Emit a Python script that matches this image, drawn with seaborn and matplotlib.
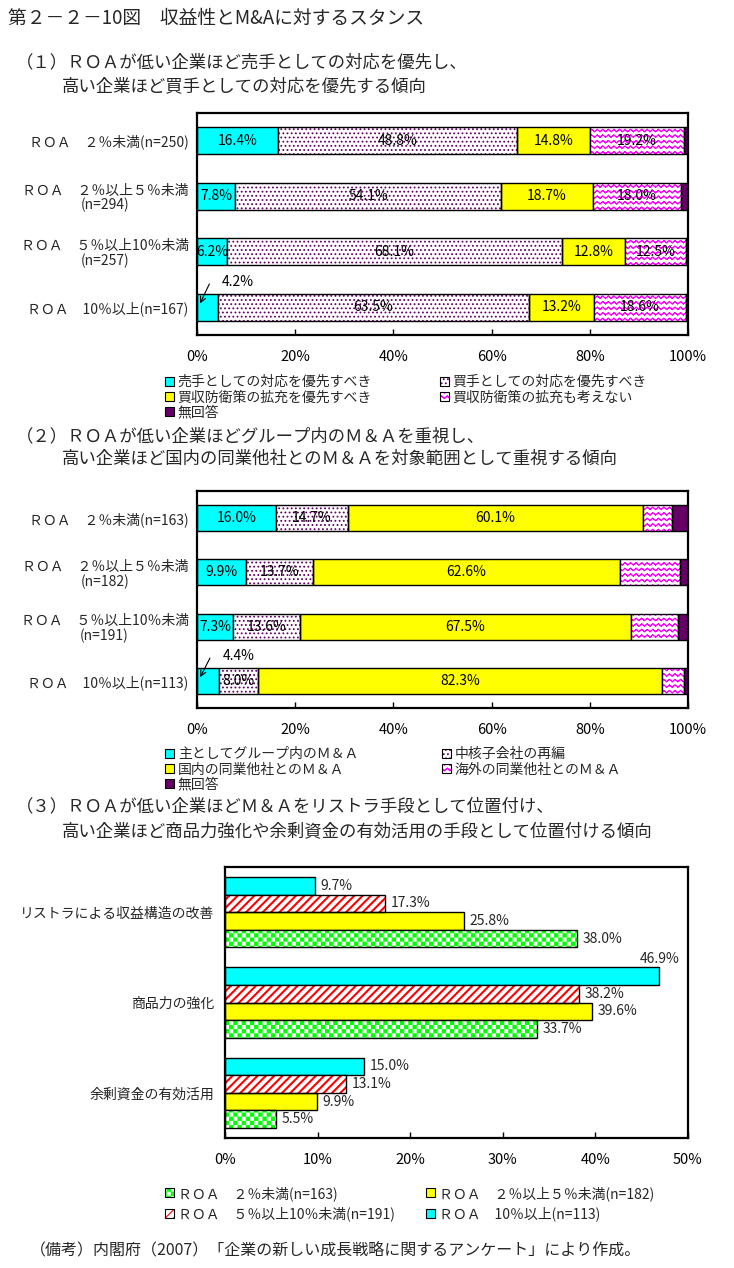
import warnings
warnings.filterwarnings('ignore')
import numpy as np
import pandas as pd
import matplotlib
matplotlib.use('Agg')
import matplotlib.pyplot as plt
import matplotlib.hatch as mhatch
from matplotlib.path import Path
from matplotlib.patches import Rectangle, Patch
from matplotlib.legend_handler import HandlerTuple
import seaborn as sns

# ---------------- data ----------------
title = '第２－２－10図　収益性とM&Aに対するスタンス'
sub1 = ['（１）ＲＯＡが低い企業ほど売手としての対応を優先し、', '高い企業ほど買手としての対応を優先する傾向']
sub2 = ['（２）ＲＯＡが低い企業ほどグループ内のＭ＆Ａを重視し、', '高い企業ほど国内の同業他社とのＭ＆Ａを対象範囲として重視する傾向']
sub3 = ['（３）ＲＯＡが低い企業ほどＭ＆Ａをリストラ手段として位置付け、', '高い企業ほど商品力強化や余剰資金の有効活用の手段として位置付ける傾向']
footnote = '（備考）内閣府（2007）「企業の新しい成長戦略に関するアンケート」により作成。'

p1_cats = ['ＲＯＡ　２％未満(n=250)', 'ＲＯＡ　２％以上５％未満\n(n=294)',
           'ＲＯＡ　５％以上10％未満\n(n=257)', 'ＲＯＡ　10％以上(n=167)']
p1_series = ['売手としての対応を優先すべき', '買手としての対応を優先すべき',
             '買収防衛策の拡充を優先すべき', '買収防衛策の拡充も考えない', '無回答']
p1_sell = [16.4, 7.8, 6.2, 4.2]
p1_buy = [48.8, 54.1, 68.1, 63.5]
p1_defend = [14.8, 18.7, 12.8, 13.2]
p1_nodefend = [19.2, 18.0, 12.5, 18.6]
p1_na = [0.8, 1.4, 0.4, 0.5]

p2_cats = ['ＲＯＡ　２％未満(n=163)', 'ＲＯＡ　２％以上５％未満\n(n=182)',
           'ＲＯＡ　５％以上10％未満\n(n=191)', 'ＲＯＡ　10％以上(n=113)']
p2_series = ['主としてグループ内のＭ＆Ａ', '中核子会社の再編', '国内の同業他社とのＭ＆Ａ',
             '海外の同業他社とのＭ＆Ａ', '無回答']
p2_group = [16.0, 9.9, 7.3, 4.4]
p2_core = [14.7, 13.7, 13.6, 8.0]
p2_domestic = [60.1, 62.6, 67.5, 82.3]
p2_overseas = [6.0, 12.1, 9.5, 4.4]
p2_na = [3.2, 1.7, 2.1, 0.9]

p3_cats = ['リストラによる収益構造の改善', '商品力の強化', '余剰資金の有効活用']
p3_groups = ['ＲＯＡ　10％以上(n=113)', 'ＲＯＡ　５％以上10％未満(n=191)',
             'ＲＯＡ　２％以上５％未満(n=182)', 'ＲＯＡ　２％未満(n=163)']
p3_roa10 = [9.7, 46.9, 15.0]
p3_roa5_10 = [17.3, 38.2, 13.1]
p3_roa2_5 = [25.8, 39.6, 9.9]
p3_roa2 = [38.0, 33.7, 5.5]

pct_ticks_100 = [0, 20, 40, 60, 80, 100]
pct_ticks_50 = [0, 10, 20, 30, 40, 50]

# ---------------- custom hatches ----------------
class WaveHatch(mhatch.HatchPatternBase):
    def __init__(self, hatch, density):
        self.n = hatch.count('~') * density
        self.pts = 2 * self.n + 1 if self.n else 0
        self.m = 2 * self.pts - 1 if self.n else 0
        self.num_vertices = self.n * self.m

    def set_vertices_and_codes(self, vertices, codes):
        n = self.n
        xs = np.linspace(0, 1, self.pts)
        off = np.where(np.arange(self.pts) % 2 == 0, -0.22, 0.22) / n
        k = 0
        for i in range(n):
            ys = (i + 0.5) / n + off
            vertices[k:k + self.m, 0] = np.concatenate([xs, xs[-2::-1]])
            vertices[k:k + self.m, 1] = np.concatenate([ys, ys[-2::-1]])
            codes[k] = Path.MOVETO
            codes[k + 1:k + self.m] = Path.LINETO
            k += self.m


class CheckerHatch(mhatch.HatchPatternBase):
    def __init__(self, hatch, density):
        self.n = hatch.count('#') * density * 2
        self.cells = [(i, j) for i in range(self.n) for j in range(self.n)
                      if (i + j) % 2 == 0] if self.n else []
        self.num_vertices = len(self.cells) * 5

    def set_vertices_and_codes(self, vertices, codes):
        s = 1.0 / self.n
        ins = 0.12 * s
        k = 0
        for i, j in self.cells:
            x0, y0 = i * s + ins, j * s + ins
            x1, y1 = (i + 1) * s - ins, (j + 1) * s - ins
            vertices[k:k + 5] = [(x0, y0), (x1, y0), (x1, y1), (x0, y1), (x0, y0)]
            codes[k:k + 5] = [Path.MOVETO, Path.LINETO, Path.LINETO, Path.LINETO, Path.CLOSEPOLY]
            k += 5


mhatch._hatch_types.append(WaveHatch)
mhatch._hatch_types.append(CheckerHatch)

# ---------------- style ----------------
sns.set_style('white')
plt.rcParams['font.family'] = ['Noto Sans CJK JP', 'DejaVu Sans']
plt.rcParams['hatch.linewidth'] = 0.8

CYAN = '#00FFFF'
YELLOW = '#FFFF00'
PURPLE = '#660066'
DOTC = '#660066'
MAGENTA = '#FF00FF'
RED = '#FF0000'
GREEN = '#00FF00'

W, H = 734, 1268
def fx(px):
    return px / W
def fy(py):
    return 1 - py / H

fig = plt.figure(figsize=(W / 100, H / 100), dpi=100)
fig.patch.set_facecolor('white')

ax1 = fig.add_axes([fx(197), fy(335), (688 - 197) / W, (335 - 113) / H])
ax2 = fig.add_axes([fx(197), fy(708), (688 - 197) / W, (708 - 491) / H])
ax3 = fig.add_axes([fx(225), fy(1138), (688 - 225) / W, (1138 - 867) / H])


def style_patch(ax, p, face, hatch, hcol, hlw=0.8):
    p.set_facecolor(face)
    if hatch is None:
        p.set_edgecolor('black')
        p.set_linewidth(1.0)
    else:
        p.set_hatch(hatch)
        p.set_edgecolor(hcol)
        p.set_linewidth(0)
        if hasattr(p, 'set_hatch_linewidth'):
            p.set_hatch_linewidth(hlw)
        ax.add_patch(Rectangle(p.get_xy(), p.get_width(), p.get_height(), fill=False,
                               edgecolor='black', linewidth=1.0, zorder=p.get_zorder() + 0.1))


def draw_stacked(ax, cats, values_list, styles, width, n_labeled):
    left = np.zeros(len(cats))
    for idx, (vals, st) in enumerate(zip(values_list, styles)):
        face, hatch, hcol, hlw = st
        df = pd.DataFrame({'cat': cats, 'val': vals})
        before = len(ax.patches)
        sns.barplot(data=df, x='val', y='cat', orient='h', color=face, saturation=1,
                    width=width, left=left.copy(), errorbar=None, ax=ax)
        new = list(ax.patches[before:])
        for p in new:
            style_patch(ax, p, face, hatch, hcol, hlw)
        if idx < n_labeled:
            for i, v in enumerate(vals):
                if v < 5:
                    ax.text(left[i] + v * 1.2, i - 0.46, f'{v:.1f}%', ha='left', va='center',
                            fontsize=10, color='black')
                    ax.annotate('', xy=(left[i] + v * 0.15, i - 0.07),
                                xytext=(left[i] + v * 0.6, i - 0.42),
                                arrowprops=dict(arrowstyle='->', lw=0.8, color='black',
                                                shrinkA=0, shrinkB=0))
                else:
                    ax.text(left[i] + v / 2, i, f'{v:.1f}%', ha='center', va='center',
                            fontsize=10, color='black', zorder=5)
        left = left + np.array(vals)


def finish_axes(ax, cats, ticks, xmax):
    ax.set_xlim(0, xmax)
    ax.set_ylim(len(cats) - 0.5, -0.5)
    ax.set_xlabel('')
    ax.set_ylabel('')
    ax.set_xticks(ticks, labels=[f'{t}%' for t in ticks])
    ax.set_yticks(range(len(cats)), labels=cats, multialignment='center', linespacing=1.05)
    ax.tick_params(axis='x', direction='in', length=4, width=1, pad=11, labelsize=10.5,
                   bottom=True, top=False, colors='black')
    ax.tick_params(axis='y', length=0, pad=6, labelsize=10, left=False)
    for s in ax.spines.values():
        s.set_visible(True)
        s.set_linewidth(1.6)
        s.set_color('black')
    ax.grid(False)
    ax.set_facecolor('white')


# ---------------- panel 1 ----------------
styles1 = [(CYAN, None, None, 0.8), ('white', '....', DOTC, 0.8), (YELLOW, None, None, 0.8),
           ('white', '~~~', MAGENTA, 0.7), (PURPLE, None, None, 0.8)]
draw_stacked(ax1, p1_cats, [p1_sell, p1_buy, p1_defend, p1_nodefend, p1_na], styles1, 0.49, 4)
finish_axes(ax1, p1_cats, pct_ticks_100, 100)

# ---------------- panel 2 ----------------
draw_stacked(ax2, p2_cats, [p2_group, p2_core, p2_domestic, p2_overseas, p2_na], styles1, 0.48, 3)
finish_axes(ax2, p2_cats, pct_ticks_100, 100)

# ---------------- panel 3 ----------------
styles3 = {p3_groups[0]: (CYAN, None, None, 0.8),
           p3_groups[1]: ('white', '////', RED, 1.5),
           p3_groups[2]: (YELLOW, None, None, 0.8),
           p3_groups[3]: ('white', '##', GREEN, 0.8)}
vals3 = [p3_roa10, p3_roa5_10, p3_roa2_5, p3_roa2]
df3 = pd.DataFrame({
    'cat': p3_cats * 4,
    'grp': [g for g in p3_groups for _ in p3_cats],
    'val': [v for vals in vals3 for v in vals],
})
sns.barplot(data=df3, x='val', y='cat', hue='grp', hue_order=p3_groups,
            palette={g: (styles3[g][0]) for g in p3_groups}, saturation=1,
            width=0.78, errorbar=None, ax=ax3, legend=False)
for g, cont in zip(p3_groups, ax3.containers):
    face, hatch, hcol, hlw = styles3[g]
    for p in list(cont.patches):
        style_patch(ax3, p, face, hatch, hcol, hlw)
        v = p.get_width()
        yc = p.get_y() + p.get_height() / 2
        if v > 45:
            ax3.annotate(f'{v:.1f}%', xy=(v, p.get_y()), xytext=(0, 1),
                         textcoords='offset points', ha='center', va='bottom', fontsize=10)
        else:
            ax3.annotate(f'{v:.1f}%', xy=(v, yc), xytext=(4, 0),
                         textcoords='offset points', ha='left', va='center', fontsize=10)
finish_axes(ax3, p3_cats, pct_ticks_50, 50)
ax3.tick_params(axis='y', pad=8)

# ---------------- legends ----------------
def handle(face, hatch, hcol):
    if hatch is None:
        return Patch(facecolor=face, edgecolor='black', linewidth=0.8)
    return (Patch(facecolor=face, hatch=hatch, edgecolor=hcol, linewidth=0),
            Patch(facecolor='none', edgecolor='black', linewidth=0.8))


def col_legend(items, x_px, y_top_px, spacing):
    hs = [handle(*it[1]) for it in items]
    ls = [it[0] for it in items]
    fig.legend(hs, ls, loc='upper left', bbox_to_anchor=(fx(x_px), fy(y_top_px)),
               frameon=False, fontsize=10, handlelength=0.62, handleheight=0.62,
               handletextpad=0.3, labelspacing=spacing, borderpad=0, borderaxespad=0,
               handler_map={tuple: HandlerTuple(ndivide=1, pad=0)})

st = {'cyan': (CYAN, None, None), 'dot': ('white', '....', DOTC), 'yel': (YELLOW, None, None),
      'wave': ('white', '~~~', MAGENTA), 'pur': (PURPLE, None, None),
      'red': ('white', '////', RED), 'chk': ('white', '##', GREEN)}

col_legend([(p1_series[0], st['cyan']), (p1_series[2], st['yel']), (p1_series[4], st['pur'])], 165, 375, 0.1)
col_legend([(p1_series[1], st['dot']), (p1_series[3], st['wave'])], 440, 375, 0.1)
col_legend([(p2_series[0], st['cyan']), (p2_series[2], st['yel']), (p2_series[4], st['pur'])], 165, 747, 0.1)
col_legend([(p2_series[1], st['dot']), (p2_series[3], st['wave'])], 442, 747, 0.1)
col_legend([(p3_groups[3], st['chk']), (p3_groups[1], st['red'])], 165, 1186, 0.38)
col_legend([(p3_groups[2], st['yel']), (p3_groups[0], st['cyan'])], 426, 1186, 0.38)

# ---------------- texts ----------------
fig.text(fx(8), fy(18), title, fontsize=13.5, va='center', ha='left')
fig.text(fx(16), fy(62), sub1[0], fontsize=12.5, va='center', ha='left')
fig.text(fx(62), fy(86), sub1[1], fontsize=12.5, va='center', ha='left')
fig.text(fx(16), fy(436), sub2[0], fontsize=12.5, va='center', ha='left')
fig.text(fx(62), fy(459), sub2[1], fontsize=12.5, va='center', ha='left')
fig.text(fx(16), fy(806), sub3[0], fontsize=12.5, va='center', ha='left')
fig.text(fx(62), fy(831), sub3[1], fontsize=12.5, va='center', ha='left')
fig.text(fx(30), fy(1250), footnote, fontsize=11.5, va='center', ha='left')

fig.savefig('out.png', dpi=100, facecolor='white')
